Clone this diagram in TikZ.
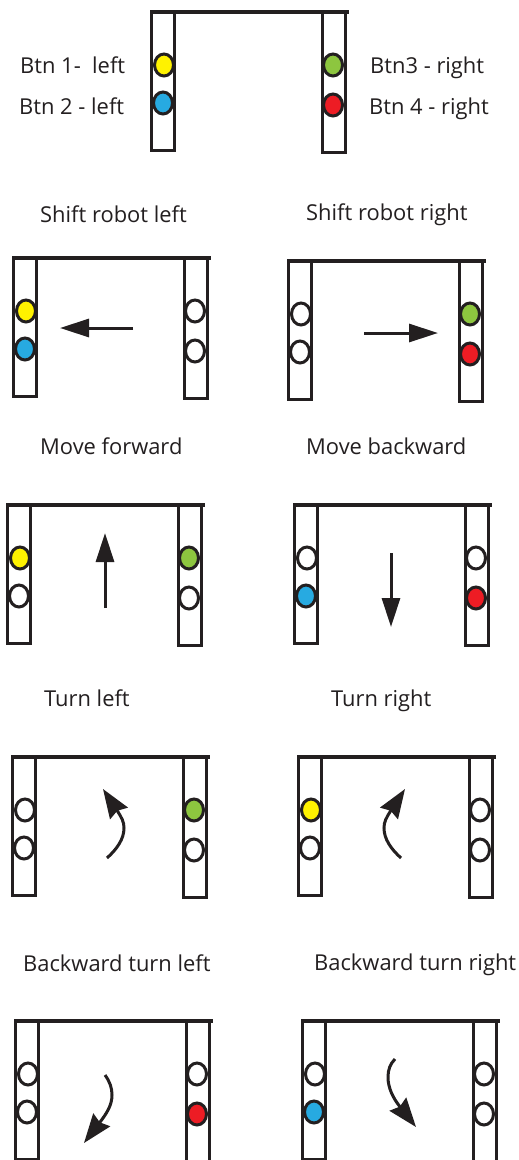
\documentclass[tikz,border=0pt]{standalone}
\usepackage{fontspec}
\setmainfont{Open Sans}
\usetikzlibrary{arrows.meta,shapes.geometric}
\definecolor{ink}{HTML}{231F20}
\definecolor{ledy}{HTML}{FFF200}
\definecolor{ledb}{HTML}{27AAE1}
\definecolor{ledg}{HTML}{8DC63F}
\definecolor{ledr}{HTML}{ED1C24}
\tikzset{
  rail/.style={draw=ink,line width=3.4pt,fill=white},
  bar/.style={draw=ink,line width=3.2pt},
  led/.style={ellipse,draw=ink,line width=3pt,inner sep=0pt,minimum width=19pt,minimum height=22pt},
  lbl/.style={anchor=base west,inner sep=0pt,text=ink,font=\fontsize{21.9pt}{24pt}\selectfont},
  arr/.style={draw=ink,line width=3pt,-{Stealth[length=29pt,width=18pt,inset=0pt,fill=ink]}},
  carr/.style={draw=ink,line width=3pt,-{Stealth[length=29pt,width=21pt,inset=3pt,fill=ink]}},
}
\newcommand{\robotfig}[7]{%
  \begin{scope}[shift={(#2,#3)}]
    \draw[bar] (151,12) -- (349,12);
    \draw[rail] (151.5,12) rectangle (174.5,150.5);
    \draw[rail] (322.5,12) rectangle (345.5,152.5);
    \node[led,fill=#4] (#1a) at (164,65) {};
    \node[led,fill=#5] (#1b) at (163,103) {};
    \node[led,fill=#6] (#1c) at (333,65) {};
    \node[led,fill=#7] (#1d) at (333,105) {};
  \end{scope}}
\begin{document}
\begin{tikzpicture}[x=1pt,y=-1pt]
\clip (0,0) rectangle (519,1160);
\fill[white] (0,0) rectangle (519,1160);
\robotfig{top}{0}{0}{ledy}{ledb}{ledg}{ledr}
\robotfig{sl}{-138}{246}{ledy}{ledb}{white}{white}
\robotfig{sr}{137}{249}{white}{white}{ledg}{ledr}
\robotfig{mf}{-144}{493}{ledy}{white}{ledg}{white}
\robotfig{mb}{143}{493}{white}{ledb}{white}{ledr}
\robotfig{tl}{-139}{745}{white}{white}{ledg}{white}
\robotfig{tr}{147}{745}{ledy}{white}{white}{white}
\robotfig{bl}{-136}{1009}{white}{white}{white}{ledr}
\robotfig{br}{151}{1009}{white}{ledb}{white}{white}
\node[lbl] (t1) at (20,73) {Btn 1-\ \ left};
\node[lbl] (t2) at (19,114) {Btn 2 - left};
\node[lbl] (t3) at (370,73) {Btn3 - right};
\node[lbl] (t4) at (369,114) {Btn 4 - right};
\node[lbl] (t5) at (40,222) {Shift robot left};
\node[lbl] (t6) at (306,220) {Shift robot right};
\node[lbl] (t7) at (40,454) {Move forward};
\node[lbl] (t8) at (306,454) {Move backward};
\node[lbl] (t9) at (44,706) {Turn left};
\node[lbl] (t10) at (331,706) {Turn right};
\node[lbl] (t11) at (23,971) {Backward turn left};
\node[lbl] (t12) at (314,970) {Backward turn right};
\coordinate (a1s) at (133,328); \coordinate (a1e) at (60,328);
\coordinate (a2s) at (364,333); \coordinate (a2e) at (438,333);
\coordinate (a3s) at (105,608); \coordinate (a3e) at (105,533);
\coordinate (a4s) at (391,553); \coordinate (a4e) at (391,627);
\coordinate (a5s) at (107,858); \coordinate (a5e) at (103,789);
\coordinate (a6s) at (401,858); \coordinate (a6e) at (405,789);
\coordinate (a7s) at (105,1075); \coordinate (a7e) at (84,1143);
\coordinate (a8s) at (395,1059); \coordinate (a8e) at (416,1127);
\draw[arr] (a1s) -- (a1e);
\draw[arr] (a2s) -- (a2e);
\draw[arr] (a3s) -- (a3e);
\draw[arr] (a4s) -- (a4e);
\draw[carr] (a5s) .. controls (117,849) and (124,839) .. (124,828) .. controls (124,822) and (122,818) .. (a5e);
\draw[carr] (a6s) .. controls (391,849) and (384,839) .. (384,828) .. controls (384,822) and (386,818) .. (a6e);
\draw[carr] (a7s) .. controls (110,1082) and (112,1088) .. (112,1095) .. controls (112,1105) and (107,1113) .. (a7e);
\draw[carr] (a8s) .. controls (390,1064) and (388,1070) .. (388,1077) .. controls (388,1088) and (393,1098) .. (a8e);
\end{tikzpicture}
\end{document}
